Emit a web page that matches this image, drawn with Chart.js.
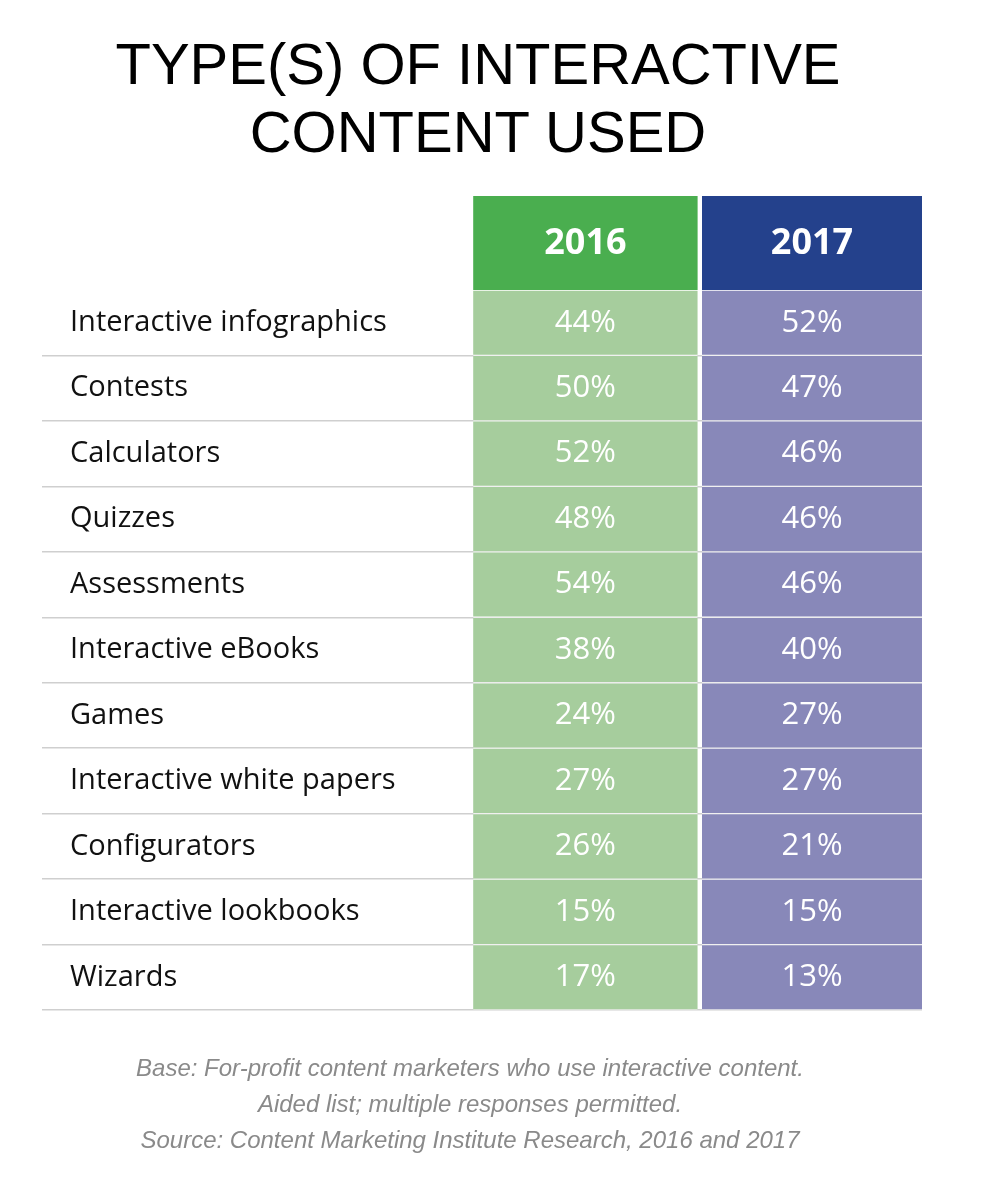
<!DOCTYPE html>
<html><head><meta charset="utf-8">
<script src="https://cdn.jsdelivr.net/npm/chart.js@4/dist/chart.umd.min.js"></script>
<style>
html,body{margin:0;padding:0;background:#fff;width:984px;height:1202px;overflow:hidden}
#title{position:absolute;left:0;top:30px;width:956px;text-align:center;font-family:"Liberation Sans",Arial,sans-serif;font-size:58px;line-height:68px;color:#000}
#foot{position:absolute;left:0;top:1050px;width:940px;text-align:center;font-family:"Liberation Sans",Arial,sans-serif;font-style:italic;font-size:24px;line-height:36px;color:#8a8a8a}
#wrap{position:absolute;left:0;top:0;width:984px;height:1202px}
</style></head><body>
<div id="title">TYPE(S) OF INTERACTIVE<br>CONTENT USED</div>
<div id="wrap"><canvas id="c" width="984" height="1202"></canvas></div>
<div id="foot">Base: For-profit content marketers who use interactive content.<br>Aided list; multiple responses permitted.<br>Source: Content Marketing Institute Research, 2016 and 2017</div>
<script>
const categories=["Interactive infographics","Contests","Calculators","Quizzes","Assessments","Interactive eBooks","Games","Interactive white papers","Configurators","Interactive lookbooks","Wizards"];
const years=["2016","2017"];
const values2016=[44,50,52,48,54,38,24,27,26,15,17];
const values2017=[52,47,46,46,46,40,27,27,21,15,13];
const cols=[[1.96,2.98],[3,4]];
const headColors=["#4aae4f","#24418c"];
const cellColors=["#a6cd9d","#8888b9"];
const series=[values2016,values2017];

const textPlugin={id:'txt',
 beforeDatasetsDraw(ch){
  const {ctx,scales:{x}}=ch;
  ctx.save();
  cols.forEach((c,i)=>{
    const l=x.getPixelForValue(c[0]),r=x.getPixelForValue(c[1]);
    ctx.fillStyle=headColors[i];ctx.fillRect(l,196,r-l,ch.chartArea.top-196);
    ctx.fillStyle='#fff';ctx.font='bold 36px "Open Sans",sans-serif';
    ctx.textAlign='center';ctx.textBaseline='middle';
    ctx.fillText(years[i],(l+r)/2,244);
  });
  ctx.restore();
 },
 afterDatasetsDraw(ch){
  const {ctx,scales:{x,y}}=ch;
  ctx.save();ctx.textBaseline='middle';
  categories.forEach((cat,j)=>{
    const py=y.getPixelForValue(j);
    ctx.fillStyle='#111';ctx.font='29px "Open Sans",sans-serif';ctx.textAlign='left';
    ctx.fillText(cat,70,py);
    ctx.fillStyle='#fff';ctx.font='31px "Open Sans",sans-serif';ctx.textAlign='center';
    series.forEach((s,i)=>{
      const cx=x.getPixelForValue((cols[i][0]+cols[i][1])/2);
      ctx.fillText(s[j]+'%',cx,py);
    });
  });
  ctx.restore();
 }};

new Chart(document.getElementById('c'),{
 type:'bar',
 data:{labels:categories,datasets:series.map((s,i)=>({
   label:years[i],data:s.map(()=>cols[i]),backgroundColor:cellColors[i],
   borderColor:'rgba(255,255,255,0.55)',borderWidth:{top:1,bottom:1},borderSkipped:false,
   barPercentage:1,categoryPercentage:1,grouped:false}))},
 options:{indexAxis:'y',responsive:false,animation:false,
  layout:{padding:{left:42,right:62,top:290,bottom:192}},
  plugins:{legend:{display:false},tooltip:{enabled:false}},
  scales:{
   x:{min:0,max:4,display:false},
   y:{display:true,border:{display:false},ticks:{display:false},
      afterFit(s){s.width=0;},
      grid:{offset:true,drawTicks:false,lineWidth:1.5,
        color:c=>(c.index===0||c.index===categories.length)?'rgba(0,0,0,0)':'#cfcfcf'}}
  }},
 plugins:[textPlugin]
});
</script></body></html>
